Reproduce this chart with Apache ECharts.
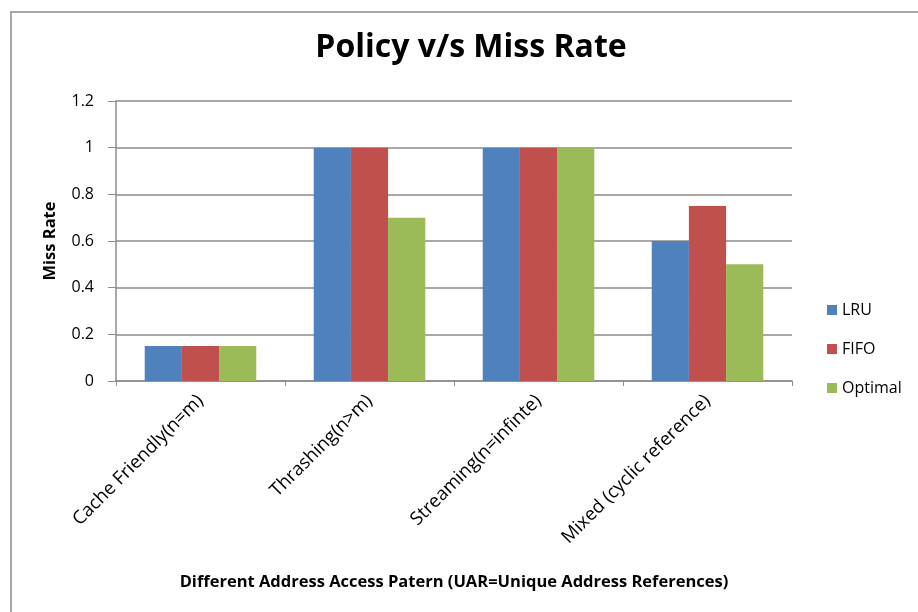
<!DOCTYPE html>
<html>
<head>
<meta charset="utf-8">
<script src="https://cdn.jsdelivr.net/npm/echarts@6/dist/echarts.min.js"></script>
<style>
  html, body { margin: 0; padding: 0; background: #fff; }
  #frame { position: absolute; left: 10px; top: 11px; width: 920px; height: 610px;
           border-left: 2px solid #a9a9a9; border-top: 2px solid #a9a9a9; }
  #chart { position: absolute; left: 0; top: 0; width: 918px; height: 612px; }
</style>
</head>
<body>
<div id="frame"></div>
<div id="chart"></div>
<script>
const categories = ['Cache Friendly(n=m)', 'Thrashing(n>m)', 'Streaming(n=infinte)', 'Mixed (cyclic reference)']
const lruValues = [0.15, 1, 1, 0.6]
const fifoValues = [0.15, 1, 1, 0.75]
const optimalValues = [0.15, 0.7, 1, 0.5]
const yTicks = [0, 0.2, 0.4, 0.6, 0.8, 1, 1.2]

const font = '"Open Sans", sans-serif'

const chart = echarts.init(document.getElementById('chart'))

const makeSeries = (name, data, color) => ({
	name,
	type: 'bar',
	data,
	barGap: 0,
	barCategoryGap: '34%',
	itemStyle: { color },
})

chart.setOption({
	animation: false,
	textStyle: { fontFamily: font },
	title: {
		text: 'Policy v/s Miss Rate',
		left: 466,
		top: 27,
		textAlign: 'center',
		textStyle: { fontSize: 32, fontWeight: 'bold', color: '#000', fontFamily: font },
	},
	grid: { left: 116, right: 126, top: 101, bottom: 231 },
	legend: {
		orient: 'vertical',
		left: 822,
		top: 297,
		itemWidth: 10,
		itemHeight: 10,
		itemGap: 23,
		icon: 'rect',
		textStyle: { fontSize: 16, color: '#000', fontFamily: font },
		data: ['LRU', 'FIFO', 'Optimal'],
	},
	xAxis: {
		type: 'category',
		data: categories,
		name: 'Different Address Access Patern (UAR=Unique Address References)',
		nameLocation: 'middle',
		nameGap: 193,
		nameTextStyle: { fontSize: 16.5, fontWeight: 'bold', color: '#000', fontFamily: font },
		axisLine: { lineStyle: { color: '#8c8c8c', width: 1.5 } },
		axisTick: { show: true, length: 5, lineStyle: { color: '#8c8c8c' } },
		axisLabel: {
			rotate: 45,
			interval: 0,
			fontSize: 18.5,
			color: '#000',
			margin: 17,
			fontFamily: font,
		},
	},
	yAxis: {
		type: 'value',
		min: 0,
		max: 1.2,
		interval: 0.2,
		name: 'Miss Rate',
		nameLocation: 'middle',
		nameGap: 57,
		nameTextStyle: { fontSize: 16.5, fontWeight: 'bold', color: '#000', fontFamily: font },
		axisLine: { show: true, lineStyle: { color: '#8c8c8c', width: 1.5 } },
		axisTick: { show: true, length: 8, lineStyle: { color: '#8c8c8c' } },
		axisLabel: {
			fontSize: 16,
			color: '#000',
			margin: 22,
			fontFamily: font,
			formatter: (v) => {
				const t = yTicks.find((y) => Math.abs(y - v) < 1e-9)
				return t === undefined ? '' : String(t)
			},
		},
		splitLine: { lineStyle: { color: '#8c8c8c', width: 1.5 } },
	},
	series: [
		makeSeries('LRU', lruValues, '#4f81bd'),
		makeSeries('FIFO', fifoValues, '#c0504d'),
		makeSeries('Optimal', optimalValues, '#9bbb59'),
	],
})

window.addEventListener('resize', () => chart.resize())
</script>
</body>
</html>
